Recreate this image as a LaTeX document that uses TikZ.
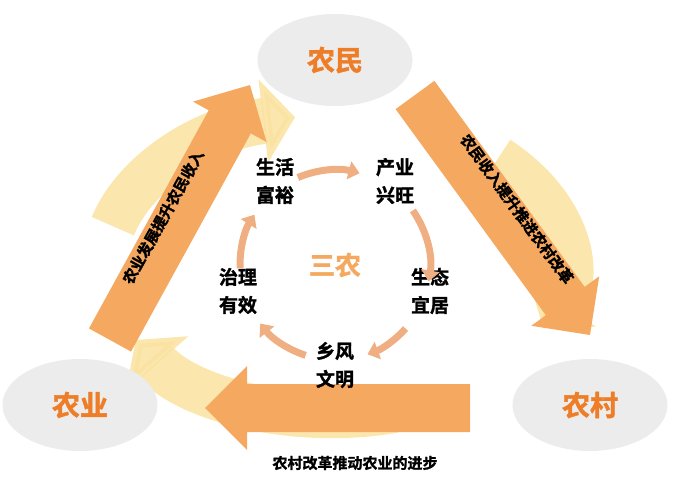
\documentclass[tikz,border=0pt]{standalone}
\usepackage{fontspec}
\newfontfamily\cjk[FakeBold=1.5]{Noto Sans CJK SC Bold}
\usetikzlibrary{arrows.meta,shapes.geometric,calc}
\definecolor{bigarrow_fill}{RGB}{245,168,95}
\definecolor{swirl_fill}{RGB}{250,226,160}
\definecolor{ring_col}{RGB}{240,175,130}
\definecolor{party_text}{RGB}{238,125,40}
\tikzset{
  party/.style={ellipse,fill=gray!15,minimum width=155pt,minimum height=92pt,font=\cjk\fontsize{28pt}{28pt}\selectfont,text=party_text},
  arrowtext/.style={font=\cjk\fontsize{15pt}{15pt}\selectfont},
  goal/.style={align=center,font=\cjk\fontsize{19pt}{28pt}\selectfont},
  ring/.style={ring_col,line width=7pt,-{Triangle[length=11pt,width=18pt]}},
  swirl/.style={swirl_fill,line width=46pt,opacity=0.85,-{Triangle[length=32pt,width=82pt]}}
}
% wide arrow from #1 to #2
\newcommand{\widearrow}[2]{%
  \path let \p1=($(#2)-(#1)$), \n1={veclen(\x1,\y1)}, \n2={atan2(\y1,\x1)} in
    [fill=bigarrow_fill,shift={(#1)},rotate=\n2]
    (0,-24) -- (\n1-42,-24) -- (\n1-42,-42) -- (\n1,0) -- (\n1-42,42) -- (\n1-42,24) -- (0,24) -- cycle;}
\begin{document}
\begin{tikzpicture}[x=1pt,y=1pt]
\useasboundingbox (0,0) rectangle (673,499);

% swirl behind
\draw[swirl] (335,234) ++(165:230 and 150) arc[start angle=165,end angle=100,x radius=230,y radius=150];
\draw[swirl] (335,234) ++(45:230 and 150) arc[start angle=45,end angle=-25,x radius=230,y radius=150];
\draw[swirl] (335,234) ++(-75:230 and 150) arc[start angle=-75,end angle=-150,x radius=230,y radius=150];

% three parties
\node[party] (farmer) at (335,439) {农民};
\node[party] (farm) at (80,94) {农业};
\node[party] (village) at (590,94) {农村};

% big arrows
\coordinate (upstart) at (110,159);
\coordinate (uptip) at (250,414);
\coordinate (downstart) at (415,404);
\coordinate (downtip) at (590,164);
\coordinate (backstart) at (470,91);
\coordinate (backtip) at (205,91);
\widearrow{upstart}{uptip}
\widearrow{downstart}{downtip}
\widearrow{backstart}{backtip}
\node[arrowtext,rotate=61] (uptext) at (163,282) {农业发展提升农民收入};
\node[arrowtext,rotate=-54] (downtext) at (517,290) {农民收入提升推进农村改革};
\node[arrowtext] (backtext) at (355,36) {农村改革推动农业的进步};

% inner ring
\node[font=\cjk\fontsize{26pt}{26pt}\selectfont,text=bigarrow_fill] (core) at (335,234) {三农};
\node[goal] (life) at (275,318) {生活\\富裕};
\node[goal] (industry) at (395,318) {产业\\兴旺};
\node[goal] (ecology) at (430,208) {生态\\宜居};
\node[goal] (custom) at (335,134) {乡风\\文明};
\node[goal] (govern) at (238,208) {治理\\有效};
\foreach \a/\b in {113/75,35/-10,-42/-70,-108/-142,182/148}{
  \draw[ring] (335,234) ++(\a:95) arc[start angle=\a,end angle=\b,radius=95];
}
\end{tikzpicture}
\end{document}
